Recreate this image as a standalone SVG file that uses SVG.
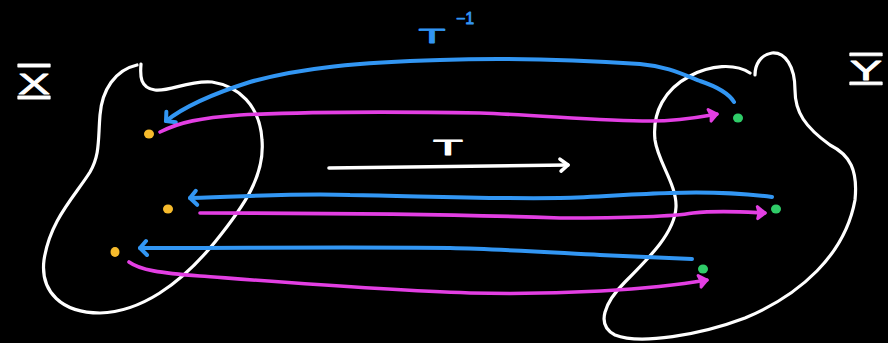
<svg xmlns="http://www.w3.org/2000/svg" width="888" height="343" viewBox="0 0 888 343">
<style>
.bg{fill:#000}
.blob{fill:none;stroke:#fff;stroke-width:3.2;stroke-linecap:round;stroke-linejoin:round}
.blue{fill:none;stroke:#3296f3;stroke-width:4;stroke-linecap:round;stroke-linejoin:round}
.pink{fill:none;stroke:#e33fe3;stroke-width:3.6;stroke-linecap:round;stroke-linejoin:round}
.white{fill:none;stroke:#fff;stroke-width:3.6;stroke-linecap:round;stroke-linejoin:round}
.ydot{fill:#f6bb2c}
.gdot{fill:#2fcc68}
.lbl{font-family:"Liberation Sans",Arial,sans-serif;fill:#fff;stroke:#fff;stroke-width:0.8;stroke-linejoin:round}
.lblb{font-family:"Liberation Sans",Arial,sans-serif;fill:#3296f3;stroke:#3296f3;stroke-width:0.8;stroke-linejoin:round}
</style>
<defs>
<marker id="hb" markerUnits="userSpaceOnUse" markerWidth="24" markerHeight="24" refX="0" refY="0" viewBox="-12 -12 24 24" orient="auto" overflow="visible">
<path d="M-7,-7 L0,0 L-6,7" fill="none" stroke="#3296f3" stroke-width="4" stroke-linecap="round" stroke-linejoin="round"/>
</marker>
<marker id="hp" markerUnits="userSpaceOnUse" markerWidth="24" markerHeight="24" refX="0" refY="0" viewBox="-12 -12 24 24" orient="auto" overflow="visible">
<path d="M-8,-6 L0,0 L-7,6 L-6,0 Z" fill="#e33fe3" stroke="#e33fe3" stroke-width="3" stroke-linecap="round" stroke-linejoin="round"/>
</marker>
<marker id="hw" markerUnits="userSpaceOnUse" markerWidth="24" markerHeight="24" refX="0" refY="0" viewBox="-12 -12 24 24" orient="auto" overflow="visible">
<path d="M-8,-6 L0,0 L-7,6" fill="none" stroke="#fff" stroke-width="3.6" stroke-linecap="round" stroke-linejoin="round"/>
</marker>
</defs>
<rect class="bg" x="0" y="0" width="888" height="343"/>

<g id="setX">
<path class="blob" d="M137,65 C115,70 102,90 100,115 C98,140 100,155 90,172 C75,196 50,220 44,260 C40,292 62,313 100,313 C140,312 180,285 215,242 C245,205 265,175 262,140 C260,105 238,86 212,82 C188,80 170,92 155,90 C140,88 140,76 141,64"/>
<text class="lbl" x="34" y="94" font-size="30" text-anchor="middle" text-decoration="overline underline" textLength="32" lengthAdjust="spacingAndGlyphs">X</text>
</g>

<g id="setY">
<path class="blob" d="M750,73 C735,63 710,65 690,76 C665,89 652,112 655,140 C658,162 677,185 676,207 C675,232 650,257 625,282 C605,302 595,325 615,335 C640,345 700,335 745,318 C800,295 845,255 855,200 C858,170 850,155 830,145 C805,127 795,112 795,90 C795,66 785,52 772,53 C760,55 755,65 755,75"/>
<text class="lbl" x="866" y="80" font-size="28" text-anchor="middle" text-decoration="overline underline" textLength="32" lengthAdjust="spacingAndGlyphs">Y</text>
</g>

<g id="pointsX">
<ellipse class="ydot" cx="149" cy="134" rx="5" ry="4.5"/>
<ellipse class="ydot" cx="168" cy="209" rx="5" ry="4.5"/>
<ellipse class="ydot" cx="115" cy="252" rx="4.5" ry="5"/>
</g>

<g id="pointsY">
<ellipse class="gdot" cx="738" cy="118" rx="5" ry="4.5"/>
<ellipse class="gdot" cx="776" cy="209" rx="5" ry="4.5"/>
<ellipse class="gdot" cx="703" cy="269" rx="5" ry="4.5"/>
</g>

<g id="labelT">
<text class="lbl" x="448" y="155" font-size="22" text-anchor="middle" textLength="30" lengthAdjust="spacingAndGlyphs">T</text>
</g>
<g id="labelTinv">
<text class="lblb" x="432" y="43" font-size="21" text-anchor="middle" textLength="27" lengthAdjust="spacingAndGlyphs">T</text>
<text class="lblb" x="465" y="24" font-size="16" text-anchor="middle">−1</text>
</g>

<g id="connectors">
<path class="blue" marker-end="url(#hb)" d="M734,102 C728,92 715,86 700,81 C680,73 665,66 640,64 C580,60 500,58 440,60 C360,62 300,68 250,82 C212,94 185,106 166,121"/>
<path class="pink" marker-end="url(#hp)" d="M160,132 C180,122 200,118 240,115 C320,111 420,112 480,113 C540,115 600,121 650,121 C680,121 700,117 717,114"/>
<path class="white" marker-end="url(#hw)" d="M329,168 C400,167 480,166 568,165"/>
<path class="blue" marker-end="url(#hb)" d="M772,197 C740,193 700,192 670,193 C630,194 600,197 560,198 C480,199 420,196 350,195 C300,193 260,196 190,198"/>
<path class="pink" marker-end="url(#hp)" d="M200,213 C300,213 450,214 560,218 C620,218 670,217 693,213 C720,210 745,212 765,213"/>
<path class="blue" marker-end="url(#hb)" d="M692,259 C670,258 640,257 600,255 C560,253 500,249 450,248 C350,247 250,248 140,248"/>
<path class="pink" marker-end="url(#hp)" d="M129,262 C140,270 160,273 200,276 C280,282 380,290 470,293 C560,295 650,290 707,280"/>
</g>
</svg>
